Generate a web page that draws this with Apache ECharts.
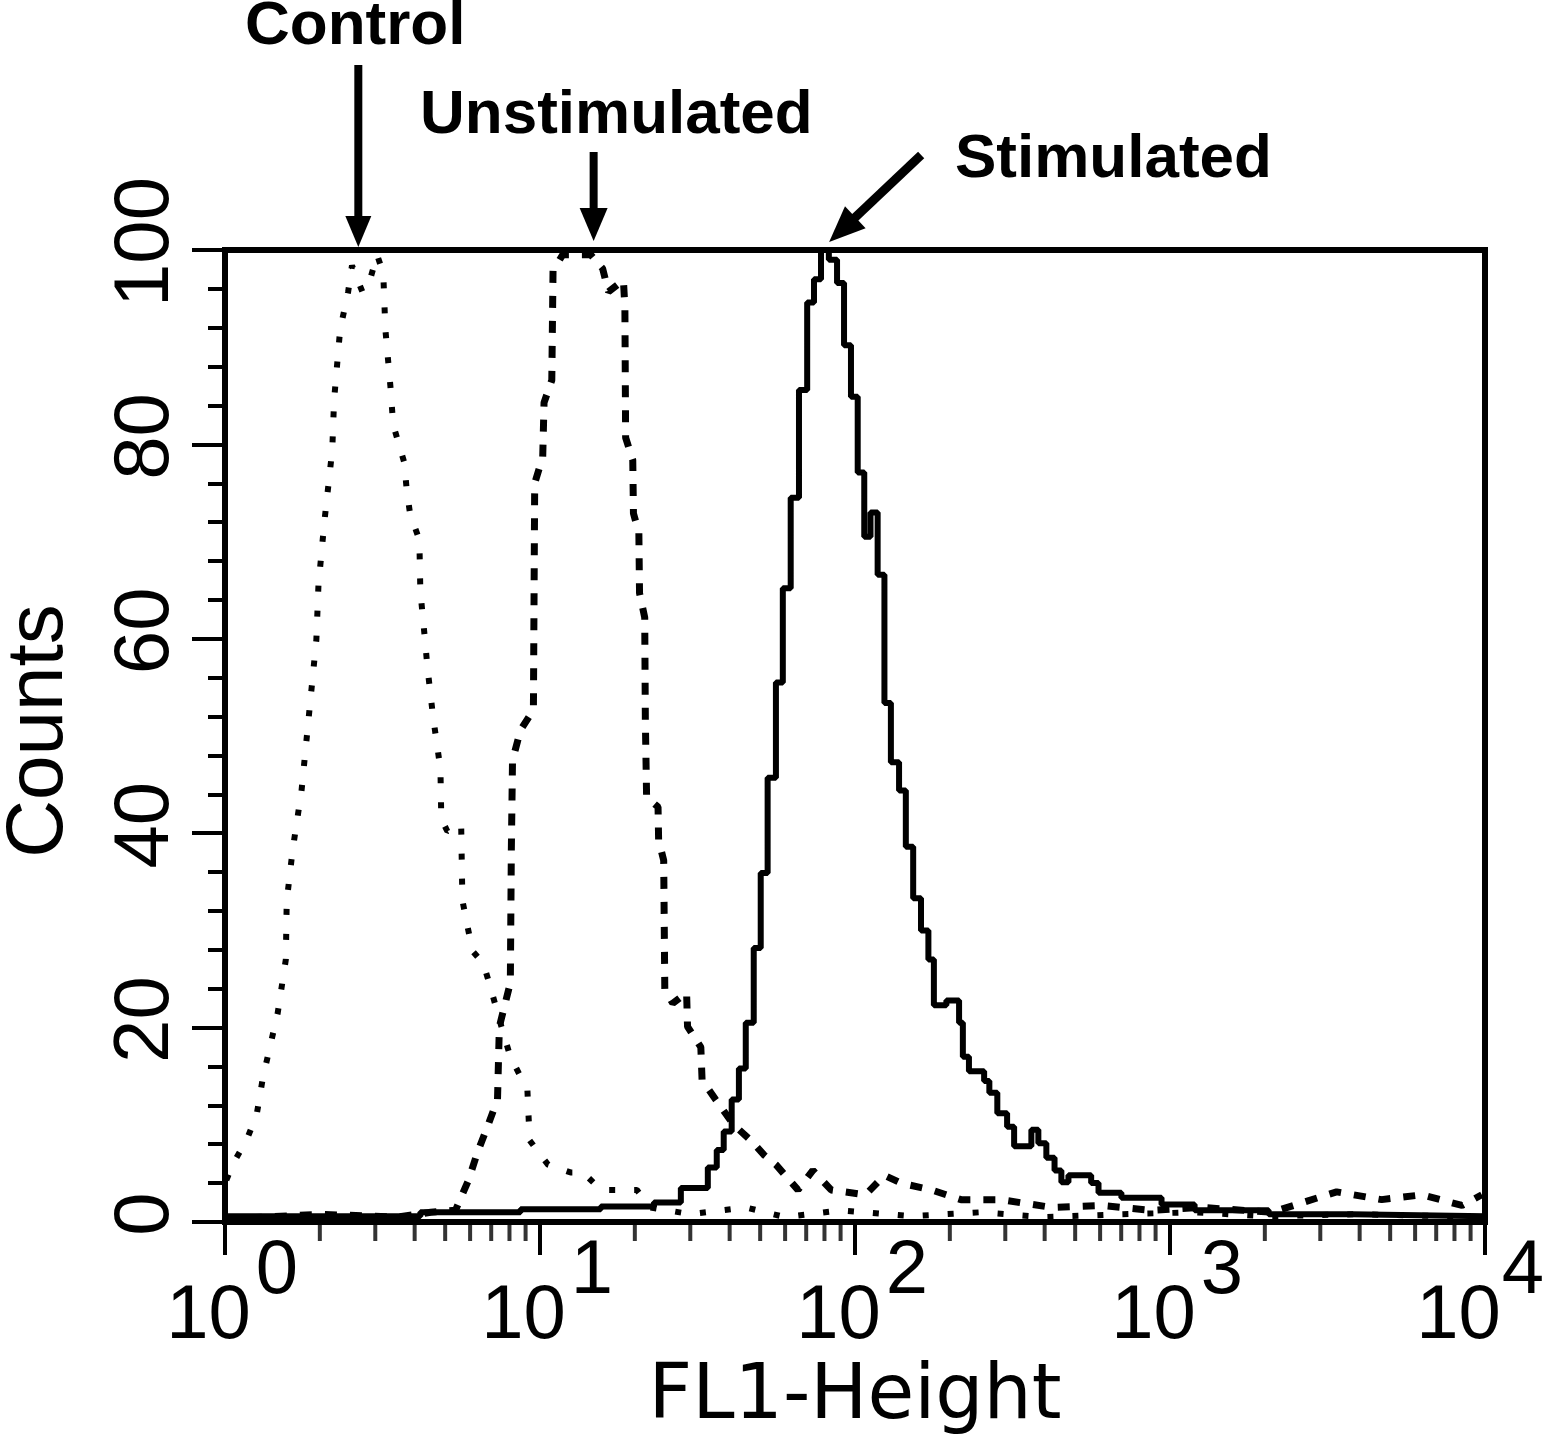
<!DOCTYPE html>
<html>
<head>
<meta charset="utf-8">
<script src="https://cdn.jsdelivr.net/npm/echarts@6/dist/echarts.min.js"></script>
<style>
  html, body { margin: 0; padding: 0; background: #fff; }
  #chart { width: 1546px; height: 1444px; }
</style>
</head>
<body>
<div id="chart"></div>
<script>
// ---- Data (FL1 value, counts) ----
const controlX = [1.01, 1.06, 1.17, 1.26, 1.32, 1.40, 1.47, 1.56, 1.57, 1.64, 1.75, 1.84, 1.95, 1.98, 2.07, 2.19, 2.22, 2.32, 2.46, 2.53, 2.73, 2.89, 3.04, 3.18, 3.23, 3.35, 3.42, 3.71, 3.77, 3.87, 4.14, 4.17, 4.32, 4.39, 4.58, 4.83, 4.86, 5.08, 5.62, 5.67, 6.10, 6.61, 6.97, 7.48, 8.05, 9.12, 9.27, 10.6, 12.5, 13.7, 15.6, 20.3, 22.4, 30, 45, 60, 90, 150, 250, 400, 700, 1200, 2000, 4000, 10000];
const controlY = [4.3, 6.0, 8.4, 11.0, 14.9, 18.5, 21.5, 27.0, 33.0, 38.3, 44.4, 51.6, 59.9, 65.5, 72.2, 79.4, 84.6, 91.8, 95.7, 98.4, 95.7, 97.0, 99.5, 97.6, 91.8, 86.0, 82.0, 78.1, 75.5, 72.8, 70.2, 64.9, 59.7, 57.1, 51.9, 46.6, 41.5, 40.2, 40.9, 33.1, 27.9, 26.6, 24.1, 20.5, 17.0, 13.6, 8.4, 5.9, 5.1, 5.1, 3.3, 3.3, 1.5, 0.8, 1.5, 0.5, 1.2, 0.6, 1.0, 0.5, 0.8, 1.0, 0.6, 0.8, 0.5];

const unstimX = [1.0, 2.0, 3.5, 4.5, 5.39, 5.93, 6.32, 6.81, 7.33, 7.43, 8.05, 8.11, 8.18, 8.67, 9.53, 9.62, 10.2, 10.3, 10.9, 11.0, 11.8, 14.5, 15.8, 16.5, 18.4, 18.6, 18.7, 19.7, 19.8, 20.6, 20.7, 21.5, 21.6, 21.8, 23.7, 23.8, 24.7, 24.9, 26.4, 29.2, 29.4, 32.4, 32.7, 36.1, 41.2, 46.7, 51.4, 56.1, 65.9, 73.5, 84.0, 108, 124, 140, 175, 217, 291, 420, 605, 873, 1259, 2104, 3381, 4699, 6310, 8453, 9772];
const unstimY = [0.3, 0.8, 0.5, 1.0, 1.2, 4.3, 7.1, 9.8, 12.6, 20.1, 24.6, 38.3, 47.5, 50.6, 52.7, 76.0, 78.7, 84.3, 86.6, 97.9, 99.5, 99.5, 98.1, 95.7, 96.9, 94.1, 80.7, 78.4, 72.9, 70.9, 64.7, 62.2, 51.6, 43.7, 42.7, 39.3, 37.2, 23.9, 22.5, 23.6, 20.1, 18.0, 14.6, 12.6, 10.0, 8.4, 6.9, 5.9, 3.3, 5.3, 3.3, 2.8, 4.8, 4.0, 3.3, 2.3, 2.3, 1.5, 1.7, 1.2, 1.5, 1.0, 3.1, 2.3, 2.8, 1.7, 2.8];

const stimX = [1.00, 4.17, 8.67, 15.6, 23.0, 28.0, 34.1, 36.4, 38.3, 40.6, 42.8, 45.0, 47.7, 50.2, 52.8, 56.1, 59.0, 62.5, 66.4, 70.5, 74.1, 78.0, 82.6, 87.7, 92.3, 97.1, 102, 107, 112, 118, 124, 130, 138, 145, 153, 162, 171, 178, 195, 214, 220, 230, 257, 267, 283, 304, 320, 363, 382, 405, 430, 452, 476, 562, 593, 701, 940, 1197, 2056, 3776, 10000];
const stimY = [0.6, 1.0, 1.3, 1.6, 2.0, 3.5, 5.6, 7.4, 9.3, 12.6, 15.8, 20.5, 28.2, 35.9, 45.7, 55.5, 65.2, 74.5, 85.6, 94.6, 97.0, 100, 99.0, 96.6, 90.2, 84.9, 77.1, 70.5, 73.0, 66.6, 53.4, 47.3, 44.4, 38.6, 33.3, 30.0, 27.0, 22.3, 22.8, 20.5, 17.0, 15.5, 14.5, 13.3, 11.2, 9.8, 7.8, 9.5, 8.1, 6.6, 5.3, 4.1, 4.8, 4.0, 3.0, 2.5, 1.8, 1.2, 0.8, 0.6, 0.6];

// x-axis minor tick positions (2..9 in each decade)
const minorTickValues = [2,3,4,5,6,7,8,9, 20,30,40,50,60,70,80,90, 200,300,400,500,600,700,800,900, 2000,3000,4000,5000,6000,7000,8000,9000];

// annotations: label and the FL1 value where its arrow points
const annotLabels = ['Control', 'Unstimulated', 'Stimulated'];
const annotPeaks = [2.65, 14.8, 84];

const zip = (xs, ys) => xs.map((x, i) => [x, ys[i]]);

const chart = echarts.init(document.getElementById('chart'), null, { renderer: 'canvas' });

const labelFont = { fontFamily: 'Liberation Sans', fontSize: 76, color: '#000', lineHeight: 45 };

const option = {
  animation: false,
  backgroundColor: '#fff',
  grid: { left: 225, right: 61, top: 250, bottom: 222, containLabel: false, outerBoundsMode: 'none',
          show: true, borderColor: '#000', borderWidth: 6, backgroundColor: 'transparent' },
  xAxis: {
    type: 'log', logBase: 10, min: 1, max: 10000,
    name: 'FL1-Height', nameLocation: 'middle', nameGap: 122,
    nameTextStyle: { fontFamily: 'DejaVu Sans', fontSize: 76, color: '#000' },
    axisLine: { lineStyle: { color: '#000', width: 6 } },
    axisTick: { show: true, length: 33, lineStyle: { color: '#000', width: 4 } },
    minorTick: { show: false },
    splitLine: { show: false },
    axisLabel: {
      margin: 28,
      formatter: function (v) {
        const e = Math.round(Math.log10(v));
        if (e >= 4) return '{supR|' + e + '}\n{baseR|10}';
        return '{sup|' + e + '}\n{base|10}';
      },
      rich: {
        sup: Object.assign({ padding: [0, 0, 0, 104] }, labelFont),
        base: Object.assign({ padding: [0, 47, 0, 14] }, labelFont),
        supR: Object.assign({ padding: [0, 24, 0, 100] }, labelFont),
        baseR: Object.assign({ padding: [0, 67, 0, 14] }, labelFont)
      }
    }
  },
  yAxis: {
    type: 'value', min: 0, max: 100, interval: 20,
    name: 'Counts', nameLocation: 'middle', nameGap: 145, nameRotate: 90,
    nameTextStyle: { fontFamily: 'Liberation Sans', fontSize: 80, color: '#000', padding: [0, 0, 0, 10] },
    axisLine: { show: true, lineStyle: { color: '#000', width: 6 } },
    axisTick: { show: true, length: 33, lineStyle: { color: '#000', width: 4 } },
    minorTick: { show: true, splitNumber: 5, length: 17, lineStyle: { color: '#000', width: 4 } },
    splitLine: { show: false },
    axisLabel: { rotate: 90, margin: 40, fontFamily: 'Liberation Sans', fontSize: 78, color: '#000', padding: [0, 0, 0, 16] }
  },
  series: [
    {
      name: 'Control', type: 'line', data: zip(controlX, controlY), showSymbol: false, symbol: 'none',
      lineStyle: { color: '#000', width: 6, type: [6, 19], cap: 'butt' }, z: 3
    },
    {
      name: 'Unstimulated', type: 'line', data: zip(unstimX, unstimY), showSymbol: false, symbol: 'none',
      lineStyle: { color: '#000', width: 7, type: [12, 13], cap: 'butt' }, z: 3
    },
    {
      name: 'Stimulated', type: 'line', step: 'end', data: zip(stimX, stimY), showSymbol: false, symbol: 'none',
      lineStyle: { color: '#000', width: 6 }, z: 4
    },
    {
      name: 'minorTicks', type: 'scatter', data: minorTickValues.map(v => [v, 0]),
      symbol: 'rect', symbolSize: [4, 16], symbolOffset: [0, 11], clip: false, silent: true,
      itemStyle: { color: '#000' }, z: 5
    }
  ]
};
chart.setOption(option);

// Annotation arrows anchored to the peak positions
const px = annotPeaks.map(v => chart.convertToPixel({ gridIndex: 0 }, [v, 100]));
const topY = px[0][1];
const c = px[0][0], u = px[1][0], s = px[2][0];
const textStyle = (t) => ({ text: t, fill: '#000', font: 'bold 62px "Liberation Sans", Arial, sans-serif', verticalAlign: 'middle', align: 'left' });
// stimulated arrow geometry
const tip = [s - 2, topY - 8];
const start = [s + 90, 155];
const dx = tip[0] - start[0], dy = tip[1] - start[1];
const len = Math.sqrt(dx * dx + dy * dy);
const ux = dx / len, uy = dy / len;
const base = [tip[0] - 36 * ux, tip[1] - 36 * uy];
const nx = -uy, ny = ux;

chart.setOption({
  graphic: [
    { type: 'text', x: 245, y: 27, style: textStyle(annotLabels[0]), z: 10 },
    { type: 'text', x: 420, y: 116, style: textStyle(annotLabels[1]), z: 10 },
    { type: 'text', x: 955, y: 160, style: textStyle(annotLabels[2]), z: 10 },
    { type: 'line', shape: { x1: c, y1: 65, x2: c, y2: topY - 30 }, style: { stroke: '#000', lineWidth: 8 }, z: 10 },
    { type: 'polygon', shape: { points: [[c - 13, topY - 34], [c + 13, topY - 34], [c, topY - 3]] }, style: { fill: '#000' }, z: 10 },
    { type: 'line', shape: { x1: u, y1: 152, x2: u, y2: topY - 38 }, style: { stroke: '#000', lineWidth: 8 }, z: 10 },
    { type: 'polygon', shape: { points: [[u - 14, topY - 42], [u + 14, topY - 42], [u, topY - 9]] }, style: { fill: '#000' }, z: 10 },
    { type: 'line', shape: { x1: start[0], y1: start[1], x2: base[0] + 4 * ux, y2: base[1] + 4 * uy }, style: { stroke: '#000', lineWidth: 9 }, z: 10 },
    { type: 'polygon', shape: { points: [[base[0] + 15 * nx, base[1] + 15 * ny], [base[0] - 15 * nx, base[1] - 15 * ny], tip] }, style: { fill: '#000' }, z: 10 }
  ]
});
</script>
</body>
</html>
